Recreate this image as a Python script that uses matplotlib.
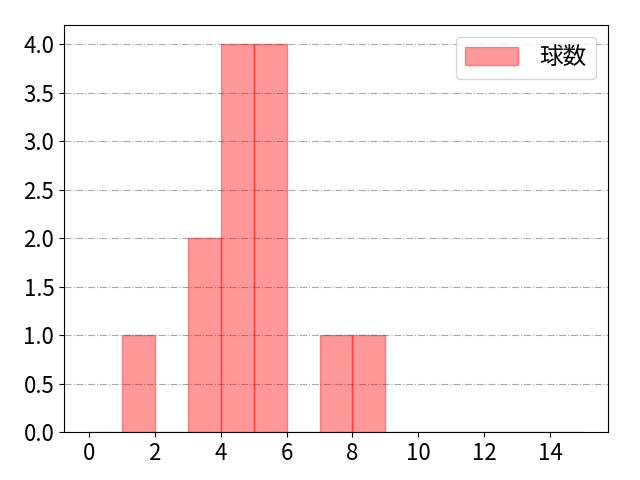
import matplotlib
matplotlib.use("Agg")
import matplotlib.pyplot as plt
import numpy as np

plt.rcParams['font.family'] = ['Noto Sans CJK JP', 'DejaVu Sans']

bin_edges = list(range(0, 16))
bin_lefts = [1, 3, 4, 5, 7, 8]
counts = [1, 2, 4, 4, 1, 1]
label = "球数"

fig = plt.figure(figsize=(6.4, 4.8), dpi=100)
ax = fig.add_axes([0.1, 0.1, 0.85, 0.848])
ax.hist(bin_lefts, bins=bin_edges, weights=counts, color='red', alpha=0.4,
        edgecolor='red', linewidth=1, label=label)
ax.grid(axis='y', linestyle='-.', color='#aaaaaa')
ax.set_axisbelow(True)
ax.set_xticks([0, 2, 4, 6, 8, 10, 12, 14])
ax.tick_params(labelsize=16)
ax.set_ylim(0, 4.2)
ax.legend(fontsize=17, handletextpad=0.9, handlelength=2.25, handleheight=0.8,
          loc='upper right')
fig.savefig("out.png", dpi=100)
